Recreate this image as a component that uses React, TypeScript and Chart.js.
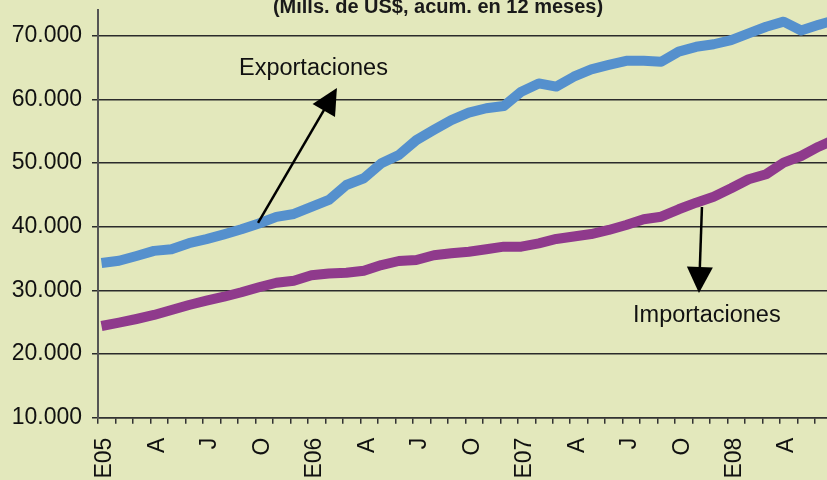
import { useEffect, useRef } from 'react';
import { Chart, registerables } from 'chart.js';

Chart.register(...registerables);

// ---- data ----
const tickLabels = [
  'E05', '', '', 'A', '', '', 'J', '', '', 'O', '', '',
  'E06', '', '', 'A', '', '', 'J', '', '', 'O', '', '',
  'E07', '', '', 'A', '', '', 'J', '', '', 'O', '', '',
  'E08', '', '', 'A', '', '', '',
];

const exportaciones = [
  34300, 34650, 35400, 36200, 36450, 37400, 38050, 38800, 39600, 40500, 41550, 42000,
  43100, 44200, 46550, 47600, 49950, 51250, 53600, 55200, 56750, 57900, 58600, 58950,
  61200, 62500, 62000, 63550, 64700, 65400, 66050, 66050, 65900, 67500, 68250, 68650,
  69300, 70350, 71400, 72200, 70800, 71700, 72500,
];

const importaciones = [
  24400, 24920, 25500, 26130, 26920, 27700, 28380, 29000, 29700, 30480, 31200, 31520,
  32360, 32650, 32770, 33090, 33980, 34610, 34770, 35510, 35820, 36070, 36450, 36860,
  36860, 37390, 38070, 38460, 38850, 39480, 40260, 41160, 41570, 42730, 43770, 44710,
  46030, 47440, 48230, 50050, 51100, 52560, 53780,
];

const yTickValues = [10000, 20000, 30000, 40000, 50000, 60000, 70000];

const titleText = '(Mills. de US$, acum. en 12 meses)';
const exportLabel = 'Exportaciones';
const importLabel = 'Importaciones';

// ---- layout / style constants ----
const W = 827;
const H = 480;
const X_MAX = 41.68;
const Y_MIN = 10000;
const Y_MAX = 74030;
const POINT_SHIFT = 0.2;
const FONT = '"Liberation Sans", Arial, Helvetica, sans-serif';

const exportArrow = { from: [9.15, 40580], to: [13.66, 61780], label: [8.06, 63825] };
const importArrow = { from: [34.53, 43090], to: [34.36, 29585], label: [30.59, 25030] };

function drawArrow(ctx: CanvasRenderingContext2D, x1: number, y1: number, x2: number, y2: number) {
  const headLen = 26;
  const headW = 26;
  const dx = x2 - x1;
  const dy = y2 - y1;
  const L = Math.hypot(dx, dy);
  const ux = dx / L;
  const uy = dy / L;
  const bx = x2 - ux * headLen;
  const by = y2 - uy * headLen;
  ctx.beginPath();
  ctx.moveTo(x1, y1);
  ctx.lineTo(bx + ux * 2, by + uy * 2);
  ctx.lineWidth = 2.5;
  ctx.strokeStyle = '#000';
  ctx.stroke();
  ctx.beginPath();
  ctx.moveTo(x2, y2);
  ctx.lineTo(bx - (uy * headW) / 2, by + (ux * headW) / 2);
  ctx.lineTo(bx + (uy * headW) / 2, by - (ux * headW) / 2);
  ctx.closePath();
  ctx.fillStyle = '#000';
  ctx.fill();
}

const bgPlugin = {
  id: 'bgPlugin',
  beforeDraw(chart: any) {
    const { ctx, width, height } = chart;
    ctx.save();
    ctx.fillStyle = '#E3E8BC';
    ctx.fillRect(0, 0, width, height);
    ctx.restore();
  },
};

const annotPlugin = {
  id: 'annotPlugin',
  afterDraw(chart: any) {
    const { ctx } = chart;
    const xs = chart.scales.x;
    const ys = chart.scales.y;
    const px = (v: number) => xs.getPixelForValue(v);
    const py = (v: number) => ys.getPixelForValue(v);
    ctx.save();
    // title
    ctx.font = `bold 20px ${FONT}`;
    ctx.fillStyle = '#1a1a1a';
    ctx.textAlign = 'center';
    ctx.textBaseline = 'alphabetic';
    ctx.fillText(titleText, 438, 13);
    // arrows
    drawArrow(ctx, px(exportArrow.from[0]), py(exportArrow.from[1]), px(exportArrow.to[0]), py(exportArrow.to[1]));
    drawArrow(ctx, px(importArrow.from[0]), py(importArrow.from[1]), px(importArrow.to[0]), py(importArrow.to[1]));
    // labels
    ctx.font = `23.5px ${FONT}`;
    ctx.fillStyle = '#111';
    ctx.textAlign = 'left';
    ctx.fillText(exportLabel, px(exportArrow.label[0]), py(exportArrow.label[1]));
    ctx.fillText(importLabel, px(importArrow.label[0]), py(importArrow.label[1]));
    ctx.restore();
  },
};

export default function App() {
  const canvasRef = useRef<HTMLCanvasElement | null>(null);

  useEffect(() => {
    const canvas = canvasRef.current;
    if (!canvas) return;
    const chart = new Chart(canvas, {
      type: 'line',
      data: {
        datasets: [
          {
            label: exportLabel,
            data: exportaciones.map((v, i) => ({ x: i + POINT_SHIFT, y: v })),
            borderColor: '#5590CD',
            borderWidth: 10,
            pointRadius: 0,
            tension: 0,
            borderJoinStyle: 'round',
            fill: false,
          },
          {
            label: importLabel,
            data: importaciones.map((v, i) => ({ x: i + POINT_SHIFT, y: v })),
            borderColor: '#8F3A8C',
            borderWidth: 10,
            pointRadius: 0,
            tension: 0,
            borderJoinStyle: 'round',
            fill: false,
          },
        ],
      },
      options: {
        responsive: false,
        animation: false,
        devicePixelRatio: 1,
        layout: { padding: { top: 10, left: 0, right: 0, bottom: 0 } },
        plugins: {
          legend: { display: false },
          tooltip: { enabled: false },
          title: { display: false },
        },
        scales: {
          x: {
            type: 'linear',
            min: 0,
            max: X_MAX,
            afterBuildTicks: (s: any) => {
              const t = [];
              for (let i = 0; i <= Math.floor(X_MAX); i++) t.push({ value: i });
              s.ticks = t;
            },
            afterFit: (s: any) => {
              s.height = H - 417.7;
              s.paddingLeft = 0;
              s.paddingRight = 0;
            },
            ticks: {
              autoSkip: false,
              minRotation: 90,
              maxRotation: 90,
              labelOffset: 7,
              padding: 14,
              color: '#111',
              font: { family: FONT, size: 23 },
              callback: (v: any) => tickLabels[v] ?? '',
            },
            grid: {
              drawOnChartArea: false,
              drawTicks: true,
              tickLength: 6,
              color: '#333',
              lineWidth: 1.5,
            },
            border: { display: true, color: '#333', width: 1.5 },
          },
          y: {
            type: 'linear',
            min: Y_MIN,
            max: Y_MAX,
            afterBuildTicks: (s: any) => {
              s.ticks = yTickValues.map((v) => ({ value: v }));
            },
            afterFit: (s: any) => {
              s.width = 98;
              s.paddingTop = 0;
              s.paddingBottom = 0;
            },
            ticks: {
              padding: 10,
              color: '#111',
              font: { family: FONT, size: 23 },
              callback: (v: any) => `${Math.round(Number(v) / 1000)}.000`,
            },
            grid: {
              color: '#2b2b2b',
              lineWidth: 1.5,
              tickLength: 6,
              drawTicks: true,
            },
            border: { display: true, color: '#555', width: 2 },
          },
        },
      },
      plugins: [bgPlugin, annotPlugin],
    });
    return () => chart.destroy();
  }, []);

  return (
    <div style={{ position: 'absolute', left: 0, top: 0, width: W, height: H, overflow: 'hidden' }}>
      <canvas ref={canvasRef} width={W} height={H} style={{ display: 'block', width: W, height: H }} />
    </div>
  );
}
